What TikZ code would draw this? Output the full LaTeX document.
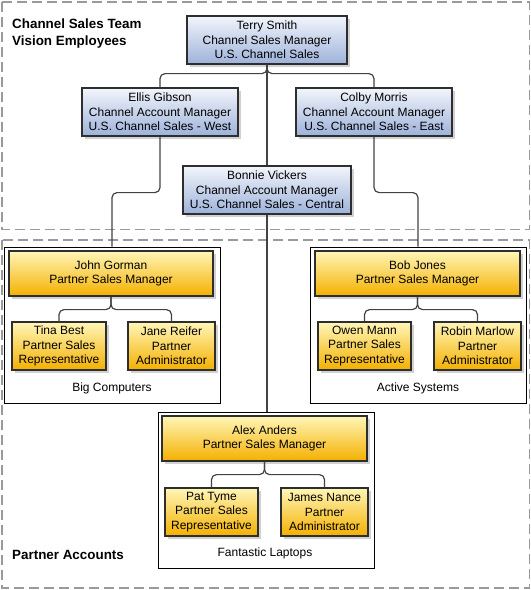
\documentclass[tikz,border=0pt]{standalone}
\usepackage{fontspec}
\setmainfont{Liberation Sans}
\usetikzlibrary{shadows}
\definecolor{bTop}{HTML}{F2F5FB}
\definecolor{bBot}{HTML}{9DB2DA}
\definecolor{yTop}{HTML}{FFF6B8}
\definecolor{yMid}{HTML}{FFD424}
\definecolor{yBot}{HTML}{F4B000}
\definecolor{dashgray}{HTML}{9A9A9A}
\definecolor{edge}{HTML}{2E2E2E}
\tikzset{
  person/.style={draw=edge, line width=1.2pt, align=center, inner sep=0pt,
    font=\fontsize{12}{14.5}\selectfont,
    drop shadow={shadow xshift=2.5pt, shadow yshift=-2.5pt, fill=black!40, opacity=0.45}},
  bluebox/.style={person, shading=axis, top color=bTop, bottom color=bBot, minimum height=48pt},
  yellowbox/.style={person, shading=axis, top color=yTop, middle color=yMid, bottom color=yBot},
  groupbox/.style={draw=black, line width=0.9pt, fill=white, minimum width=216pt, minimum height=156pt, inner sep=0pt},
  conn/.style={draw=edge!90, line width=1.2pt, rounded corners=5pt},
  zone/.style={draw=dashgray, line width=1.2pt, dash pattern=on 10pt off 5pt},
  heading/.style={font=\bfseries\fontsize{13.4}{17}\selectfont, anchor=base west, inner sep=0pt},
  grouplabel/.style={font=\fontsize{12}{14.5}\selectfont, anchor=base, inner sep=0pt}
}
\begin{document}
\begin{tikzpicture}[x=1pt,y=-1pt]
\useasboundingbox[fill=white] (0,0) rectangle (531,590);
% zones
\draw[zone] (2,2) rectangle (529.5,229.5);
\draw[zone] (2,240) rectangle (529.5,588);
\node[heading] (h1) at (12,28.7) {Channel Sales Team};
\node[heading] (h2) at (12,45.7) {Vision Employees};
\node[heading] (h3) at (12,559.5) {Partner Accounts};

% group boxes
\node[groupbox] (BC) at (112,325) {};
\node[groupbox] (AS) at (418,325) {};
\node[groupbox] (FL) at (266,490) {};

% channel people
\node[bluebox, minimum width=160pt] (T) at (267,40) {Terry Smith\\Channel Sales Manager\\U.S. Channel Sales};
\node[bluebox, minimum width=156pt] (E) at (160,112) {Ellis Gibson\\Channel Account Manager\\U.S. Channel Sales - West};
\node[bluebox, minimum width=156pt] (C) at (374,112) {Colby Morris\\Channel Account Manager\\U.S. Channel Sales - East};
\node[bluebox, minimum width=168pt] (B) at (267,190) {Bonnie Vickers\\Channel Account Manager\\U.S. Channel Sales - Central};

% Big Computers
\node[yellowbox, minimum width=204pt, minimum height=45pt] (JG) at (111,273.5) {John Gorman\\Partner Sales Manager};
\node[yellowbox, minimum width=94pt, minimum height=48pt] (TB) at (59,346) {Tina Best\\Partner Sales\\Representative};
\node[yellowbox, minimum width=87pt, minimum height=48pt] (JR) at (171.5,346) {Jane Reifer\\Partner\\Administrator};
\node[grouplabel] (lBC) at (112,391.5) {Big Computers};

% Active Systems
\node[yellowbox, minimum width=205pt, minimum height=45pt] (BJ) at (417.5,273.5) {Bob Jones\\Partner Sales Manager};
\node[yellowbox, minimum width=93pt, minimum height=48pt] (OM) at (364.5,346) {Owen Mann\\Partner Sales\\Representative};
\node[yellowbox, minimum width=87pt, minimum height=48pt] (RM) at (477.5,346) {Robin Marlow\\Partner\\Administrator};
\node[grouplabel] (lAS) at (418,391.5) {Active Systems};

% Fantastic Laptops
\node[yellowbox, minimum width=205pt, minimum height=45pt] (AA) at (264.5,438.5) {Alex Anders\\Partner Sales Manager};
\node[yellowbox, minimum width=93pt, minimum height=48pt] (PT) at (211.5,512) {Pat Tyme\\Partner Sales\\Representative};
\node[yellowbox, minimum width=87pt, minimum height=48pt] (JN) at (324.5,512) {James Nance\\Partner\\Administrator};
\node[grouplabel] (lFL) at (265,556.5) {Fantastic Laptops};

% connectors
\draw[conn] (T.south) -- ++(0,9) -| (E.north);
\draw[conn] (T.south) -- ++(0,9) -| (C.north);
\draw[conn, rounded corners=0pt] (T.south) -- (B.north);
\draw[conn, rounded corners=0pt] (B.south) -- (B.south |- FL.north);
\draw[conn] (E.south) -- ++(0,56) -| (BC.north);
\draw[conn] (C.south) -- ++(0,56) -| (AS.north);
\draw[conn] (JG.south) -- ++(0,13) -| (TB.north);
\draw[conn] (JG.south) -- ++(0,13) -| (JR.north);
\draw[conn] (BJ.south) -- ++(0,13) -| (OM.north);
\draw[conn] (BJ.south) -- ++(0,13) -| (RM.north);
\draw[conn] (AA.south) -- ++(0,13) -| (PT.north);
\draw[conn] (AA.south) -- ++(0,13) -| (JN.north);
\end{tikzpicture}
\end{document}
